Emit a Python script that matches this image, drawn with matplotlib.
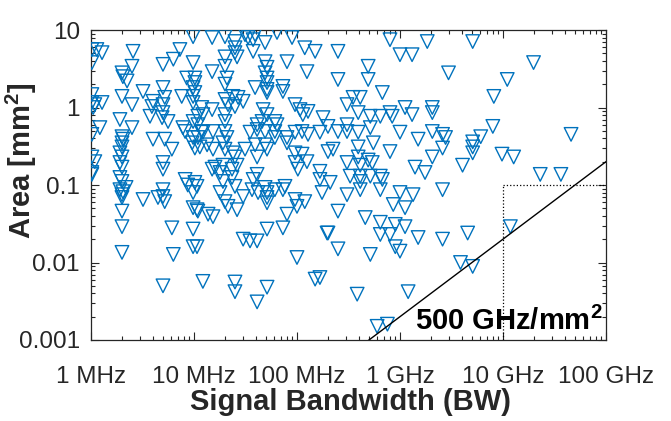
import numpy as np
import matplotlib
matplotlib.use("Agg")
import matplotlib.pyplot as plt

plt.rcParams['font.family'] = ['Liberation Sans', 'DejaVu Sans']
plt.rcParams['mathtext.fontset'] = 'custom'
plt.rcParams['mathtext.rm'] = 'Liberation Sans'
plt.rcParams['mathtext.bf'] = 'Liberation Sans:bold'

# signal bandwidth of each design, in MHz
bw_mhz = [
    1.02, 1.14, 1.28, 1.02, 2.56, 2.5, 2.0, 2.04, 2.24, 3.2, 5.0, 5.0, 6.3, 7.3, 9.8, 9.8,
    8.5, 10.2, 10.2, 9.8, 10.2, 9.8, 1.02, 1.02, 1.09, 1.28, 1.05, 2.0, 2.5, 4.0, 5.2, 5.0,
    3.9, 7.6, 9.8, 5.0, 4.9, 5.6, 3.74, 1.91, 2.5, 1.22, 1.02, 7.8, 8.2, 9.8, 10.9, 12.2,
    11.9, 2.0, 2.04, 4.0, 5.2, 9.8,
    1.02, 1.09, 1.02, 2.0, 2.0, 1.91, 2.0, 1.91, 2.0, 1.91, 2.0, 1.91, 2.04, 2.19, 2.0, 2.0,
    3.2, 4.47, 5.0, 5.0, 5.2, 5.0, 5.0, 6.1, 8.2, 8.7, 10.2, 9.8, 9.8, 10.9, 2.0, 2.0,
    6.1, 9.8, 9.8, 2.0, 6.3, 9.6, 10.2, 11.4, 1.02, 13.7, 12.2, 5.0,
    31.3, 39.2, 64, 15, 20, 25, 33.5, 37.5, 49, 89.5, 25, 25, 26.2, 37.5, 119, 150,
    20, 20, 49, 51.2, 49, 51.2, 51.2, 80, 15, 20.9, 20, 125, 39.2, 51.2, 51.2, 73,
    73, 20, 23.9, 26.8, 21.4, 25, 30, 11.9, 15, 10.9, 20, 20, 46.9, 51.2, 45.8, 61,
    64, 95.7, 107, 114, 128, 41, 41, 35, 12.2, 15.3, 20, 20.9, 10.9, 49, 61, 61,
    80, 95.7, 112, 128,
    13.4, 15.3, 19.1, 20, 23.9, 25, 26.2, 23.4, 19.1, 16, 15, 17.9, 39.2, 49, 51.2, 41,
    31.3, 80, 95.7, 112, 95.7, 102, 125, 19.1, 23.4, 25, 37.5, 41, 49, 51.2, 51.2, 51.2,
    61, 73, 76.5, 95.7, 100, 119, 80, 30, 36.6, 41.9, 17.9, 20, 21.4, 26.2, 15.3, 10.7,
    10.7, 51.2, 73, 30, 35, 41, 10.7, 100, 196, 25, 25, 51.2, 41, 150,
    800, 1840, 250, 1000, 1310, 491, 2960, 250, 491, 674, 350, 411, 306, 179, 200, 393,
    515, 644, 800, 840, 1120, 1310, 2060, 2060, 250, 306, 306, 393, 515, 1000, 1500, 2060,
    2590, 2770, 167, 200, 224, 393, 551, 800, 2060, 2590, 306, 393, 411, 491, 538, 1400,
    1750, 167, 328, 411, 515, 644,
    167, 210, 411, 674, 306, 411, 644, 175, 1000, 1340, 2590, 860, 1120, 250, 460, 644,
    900, 1120, 644, 800, 200, 1500, 2590, 4540, 11800, 23000, 36500, 250, 900, 1000, 515, 3870,
    5080, 384, 1200, 600, 755, 167,
    5080, 19800, 11000, 8150, 7970, 5080, 5080, 5080, 6080, 45800, 4050, 9780, 12700,
]

# occupied area of each design, in mm^2
area_mm2 = [
    5.6, 5.6, 5.1, 3.8, 5.3, 3.4, 2.8, 2.5, 2.2, 1.61, 1.81, 3.6, 4.2, 5.6, 8.2, 3.8,
    2.4, 2.4, 2.1, 1.81, 1.56, 1.39, 1.47, 1.16, 1.09, 1.16, 1.0, 1.39, 1.09, 1.2, 1.35, 1.09,
    1.03, 1.39, 1.16, 0.86, 0.74, 0.66, 0.77, 0.70, 0.55, 0.55, 0.45, 0.55, 0.49, 0.66, 0.60, 0.81,
    0.49, 0.42, 0.39, 0.39, 0.39, 0.41,
    0.23, 0.20, 0.145, 0.35, 0.31, 0.26, 0.23, 0.195, 0.17, 0.125, 0.111, 0.087, 0.082, 0.093, 0.075, 0.069,
    0.065, 0.069, 0.087, 0.071, 0.061, 0.195, 0.16, 0.29, 0.118, 0.10, 0.108, 0.08, 0.051, 0.046, 0.046, 0.029,
    0.028, 0.027, 0.016, 0.0135, 0.0127, 0.35, 0.30, 0.31, 0.137, 0.042, 0.0057, 0.005,
    8.7, 8.7, 9.3, 8.0, 8.2, 7.1, 8.0, 7.5, 6.9, 8.0, 5.9, 5.1, 4.5, 5.3, 5.9, 5.3,
    4.5, 3.4, 3.9, 3.3, 2.8, 2.4, 2.1, 3.9, 2.9, 2.4, 2.0, 2.9, 1.81, 1.71, 1.56, 1.87,
    1.61, 1.27, 1.39, 1.35, 1.09, 1.03, 1.2, 1.0, 0.94, 0.77, 0.81, 0.66, 0.94, 0.81, 0.66, 0.66,
    0.60, 1.09, 0.94, 0.81, 0.89, 0.60, 0.52, 0.48, 0.48, 0.49, 0.49, 0.41, 0.41, 0.49, 0.49, 0.41,
    0.41, 0.48, 0.49, 0.45,
    0.33, 0.29, 0.35, 0.29, 0.26, 0.23, 0.18, 0.16, 0.18, 0.17, 0.16, 0.145, 0.33, 0.33, 0.29, 0.23,
    0.29, 0.35, 0.26, 0.25, 0.195, 0.16, 0.20, 0.111, 0.125, 0.096, 0.118, 0.137, 0.093, 0.08, 0.069, 0.059,
    0.087, 0.087, 0.096, 0.065, 0.053, 0.061, 0.042, 0.071, 0.087, 0.08, 0.08, 0.061, 0.053, 0.048, 0.039, 0.096,
    0.048, 0.027, 0.028, 0.020, 0.019, 0.019, 0.016, 0.0116, 0.024, 0.0056, 0.0042, 0.0048, 0.0031, 0.0061,
    7.5, 7.1, 5.3, 4.8, 4.8, 3.4, 2.8, 2.3, 2.3, 1.56, 1.35, 1.35, 1.09, 0.74, 0.57, 0.86,
    0.77, 0.77, 0.86, 0.77, 1.0, 0.81, 1.0, 0.86, 0.49, 0.60, 0.49, 0.48, 0.55, 0.48, 0.39, 0.49,
    0.45, 0.41, 0.48, 0.27, 0.29, 0.31, 0.35, 0.27, 0.23, 0.30, 0.195, 0.23, 0.18, 0.21, 0.195, 0.17,
    0.145, 0.15, 0.13, 0.13, 0.13, 0.13,
    0.118, 0.108, 0.111, 0.118, 0.075, 0.087, 0.087, 0.08, 0.08, 0.075, 0.087, 0.056, 0.051, 0.046, 0.038, 0.033,
    0.031, 0.029, 0.023, 0.023, 0.024, 0.021, 0.020, 0.024, 0.029, 0.137, 0.137, 0.015, 0.016, 0.014, 0.0127, 0.01,
    0.0089, 0.0039, 0.0042, 0.0015, 0.0016, 0.0064,
    7.1, 3.8, 2.3, 1.39, 0.57, 0.36, 0.31, 0.26, 0.42, 0.45, 0.18, 0.25, 0.23,
]

x_ticks = [1e6, 1e7, 1e8, 1e9, 1e10, 1e11]
x_tick_labels = ['1 MHz', '10 MHz', '100 MHz', '1 GHz', '10 GHz', '100 GHz']
y_ticks = [0.001, 0.01, 0.1, 1, 10]
y_tick_labels = ['0.001', '0.01', '0.1', '1', '10']

# area efficiency reference: 500 GHz per mm^2
bw_per_area = 500e9
box_bw = 1e10
box_area = 0.1

fig = plt.figure(figsize=(6.71, 4.21), dpi=100)
ax = fig.add_axes([0.1356, 0.1924, 0.7675, 0.7363])

bw_hz = np.array(bw_mhz) * 1e6
ax.scatter(bw_hz, area_mm2, s=95, marker='v', facecolors='none',
           edgecolors='#0072BD', linewidths=1.0, zorder=3)

# reference line and the dotted box
line_bw = np.array([1e6, 1e11])
ax.plot(line_bw, line_bw / bw_per_area, color='black', lw=1.0, zorder=4)
ax.plot([box_bw, box_bw], [1e-3, box_area], color='black', lw=0.9, ls=':')
ax.plot([box_bw, 1e11], [box_area, box_area], color='black', lw=0.9, ls=':')
ax.text(1.4e9, 1.33e-3, r'500 GHz/mm$^{\mathbf{2}}$', fontsize=21,
        fontweight='bold', color='black', zorder=5)

ax.set_xscale('log')
ax.set_yscale('log')
ax.set_xlim(1e6, 1e11)
ax.set_ylim(1e-3, 10)
ax.set_xticks(x_ticks)
ax.set_xticklabels(x_tick_labels)
ax.set_yticks(y_ticks)
ax.set_yticklabels(y_tick_labels)
ax.tick_params(which='both', direction='in', top=True, right=True,
               colors='#262626', labelsize=17.5, width=0.8)
ax.tick_params(which='major', length=6)
ax.tick_params(which='minor', length=3)
ax.tick_params(axis='x', which='major', pad=19)
ax.tick_params(axis='y', which='major', pad=8)
for sp in ax.spines.values():
    sp.set_color('#262626')
    sp.set_linewidth(0.9)

ax.set_xlabel('Signal Bandwidth (BW)', fontsize=21, fontweight='bold',
              color='#262626')
ax.set_ylabel(r'Area [mm$^{\mathbf{2}}$]', fontsize=21, fontweight='bold',
              color='#262626')
ax.xaxis.set_label_coords(0.503, -0.155)
ax.yaxis.set_label_coords(-0.1, 0.58)

fig.savefig('out.png', dpi=100)
